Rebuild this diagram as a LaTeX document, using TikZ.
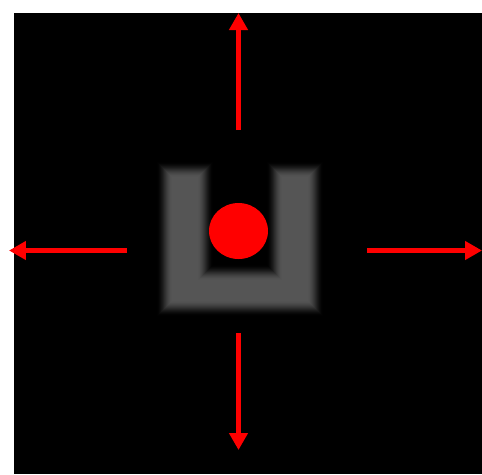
\documentclass[tikz,border=0pt]{standalone}
\usetikzlibrary{arrows.meta}
\usetikzlibrary{shapes.geometric}
\definecolor{ugray}{RGB}{85,85,85}
\definecolor{pushred}{RGB}{255,0,0}

\begin{document}
\begin{tikzpicture}[x=0.02cm, y=-0.02cm,
    push/.style={-{Triangle[length=0.34cm, width=0.36cm]}, line width=0.1cm, pushred},
    ball/.style={ellipse, fill=pushred, minimum width=1.18cm, minimum height=1.12cm, inner sep=0pt}]
    \useasboundingbox (0,0) rectangle (482,474);
    % Background
    \fill[black] (14,13) rectangle (482,474);

    % Blurred U-shaped cup
    \foreach \d in {8,7,...,-7} {
        \pgfmathsetmacro{\t}{(9-\d)/16}
        \pgfmathtruncatemacro{\p}{min(100,100*\t*\t*(3-2*\t))}
        \fill[ugray!\p!black] (165-\d,170-\d) -- (205+\d,170-\d) -- (205+\d,273-\d)
            -- (275-\d,273-\d) -- (275-\d,170-\d) -- (315+\d,170-\d)
            -- (315+\d,308+\d) -- (165-\d,308+\d) -- cycle;
    }

    % Ball
    \node[ball] (ball) at (238.5,231) {};

    % Arrow ends
    \coordinate (top0) at (238.5,130);
    \coordinate (top1) at (238.5,13);
    \coordinate (bot0) at (238.5,333);
    \coordinate (bot1) at (238.5,450);
    \coordinate (lft0) at (127,250.5);
    \coordinate (lft1) at (9,250.5);
    \coordinate (rgt0) at (367,250.5);
    \coordinate (rgt1) at (482,250.5);

    % Push directions
    \draw[push] (top0) -- (top1);
    \draw[push] (bot0) -- (bot1);
    \draw[push] (lft0) -- (lft1);
    \draw[push] (rgt0) -- (rgt1);
\end{tikzpicture}
\end{document}
